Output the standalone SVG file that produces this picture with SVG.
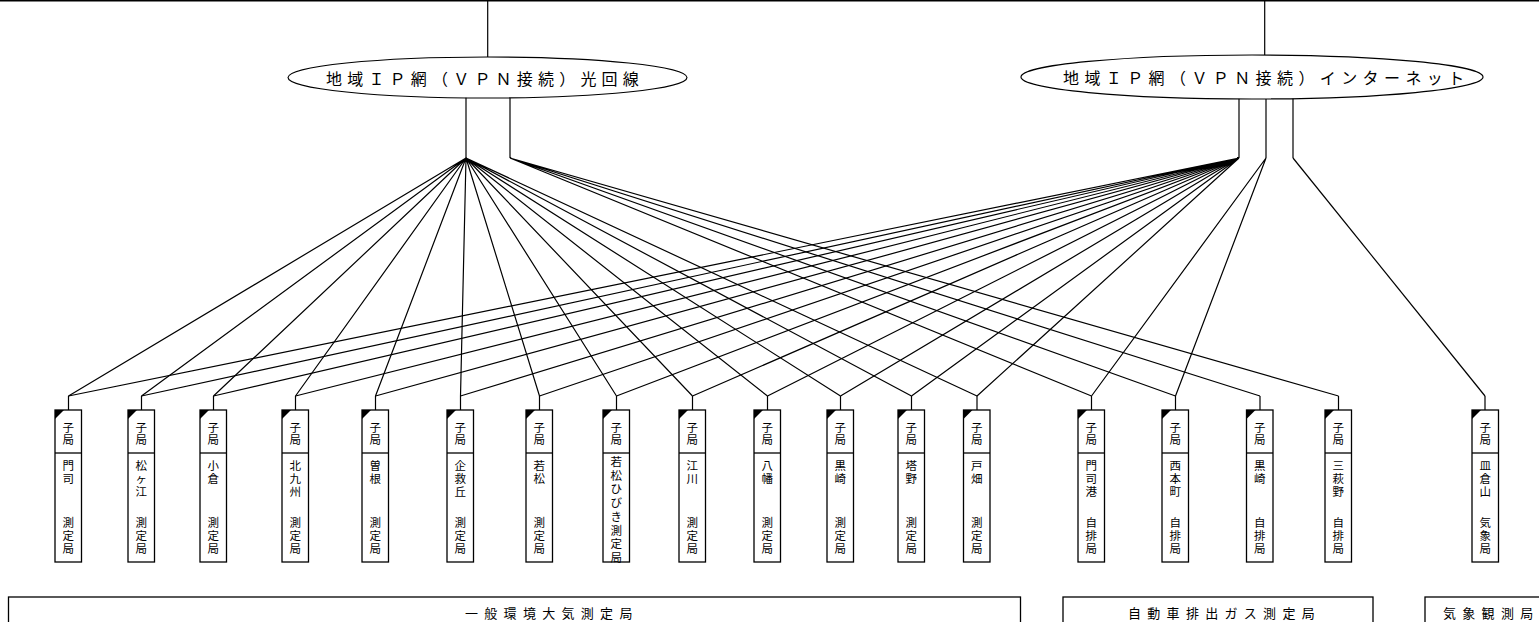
<svg xmlns="http://www.w3.org/2000/svg" width="1539" height="622" viewBox="0 0 1539 622">
<style>
.ln{stroke:#000;stroke-width:1.2;fill:none}
.box{fill:#fff;stroke:#000;stroke-width:1.3}
.tri{fill:#000}
.t{font-family:"Noto Sans CJK JP","Noto Sans",sans-serif;font-size:11.5px;fill:#000;text-anchor:middle;dominant-baseline:central}
.e{font-family:"Noto Sans CJK JP","Noto Sans",sans-serif;font-size:16px;fill:#000;dominant-baseline:central}
.lb{font-family:"Noto Sans CJK JP","Noto Sans",sans-serif;font-size:13px;fill:#000;letter-spacing:6.3px;dominant-baseline:central}
</style>
<rect width="1539" height="622" fill="#fff"/>
<g id="connectors" class="ln">
<line x1="0" y1="0.7" x2="1539" y2="0.7" stroke-width="1.5"/>
<line x1="487.7" y1="0" x2="487.7" y2="57"/>
<line x1="1264.7" y1="0" x2="1264.7" y2="55"/>
<line x1="466" y1="97" x2="466" y2="158"/>
<line x1="510" y1="97" x2="510" y2="158"/>
<line x1="1239" y1="98" x2="1239" y2="158"/>
<line x1="1266" y1="99" x2="1266" y2="158"/>
<line x1="1293" y1="98" x2="1293" y2="158"/>
<path d="M466 158L68.5 396M466 158L141.5 396M466 158L213.5 396M466 158L295.5 396M466 158L375.5 396M466 158L460.5 396M466 158L539.5 396M466 158L616.5 396M466 158L692.5 396M466 158L767.5 396M466 158L840.5 396M466 158L911.5 396M466 158L977 396"/>
<path d="M1239 158L68.5 396M1239 158L141.5 396M1239 158L213.5 396M1239 158L295.5 396M1239 158L375.5 396M1239 158L460.5 396M1239 158L539.5 396M1239 158L616.5 396M1239 158L692.5 396M1239 158L767.5 396M1239 158L840.5 396M1239 158L911.5 396M1239 158L977 396"/>
<path d="M510 158L1091.5 396M510 158L1175.5 396M510 158L1260 396M510 158L1338.5 396"/>
<path d="M1266 158L1091.5 396M1266 158L1175.5 396"/>
<path d="M1293 158L1485 396"/>
<path d="M68.5 396V410M141.5 396V410M213.5 396V410M295.5 396V410M375.5 396V410M460.5 396V410M539.5 396V410M616.5 396V410M692.5 396V410M767.5 396V410M840.5 396V410M911.5 396V410M977 396V410M1091.5 396V410M1175.5 396V410M1260 396V410M1338.5 396V410M1485 396V410"/>
</g>
<g id="net-fiber">
<ellipse cx="487.5" cy="77.5" rx="199.5" ry="20.5" fill="#fff" stroke="#000" stroke-width="1.2"/>
<text class="e" x="326" y="77.5" letter-spacing="5.2">地域ＩＰ網（ＶＰＮ接続）光回線</text>
</g>
<g id="net-internet">
<ellipse cx="1252" cy="77" rx="231" ry="22" fill="#fff" stroke="#000" stroke-width="1.2"/>
<text class="e" x="1063" y="77" letter-spacing="5.4">地域ＩＰ網（ＶＰＮ接続）インターネット</text>
</g>
<defs>
<g id="stn">
<rect class="box" x="0" y="0" width="26.5" height="152"/>
<line x1="0" y1="43" x2="26.5" y2="43" stroke="#000" stroke-width="1.3"/>
<path class="tri" d="M0 0H9L0 9Z"/>
<text class="t" x="13.25"><tspan x="13.25" y="16.5">子</tspan><tspan x="13.25" y="28.5">局</tspan></text>
</g>
</defs>
<g id="s-moji" transform="translate(55,410)"><use href="#stn"/><text class="t"><tspan x="13.25" y="55">門</tspan><tspan x="13.25" y="68">司</tspan><tspan x="13.25" y="112">測</tspan><tspan x="13.25" y="125">定</tspan><tspan x="13.25" y="138">局</tspan></text></g>
<g id="s-matsugae" transform="translate(128,410)"><use href="#stn"/><text class="t"><tspan x="13.25" y="55">松</tspan><tspan x="13.25" y="68">ヶ</tspan><tspan x="13.25" y="81">江</tspan><tspan x="13.25" y="112">測</tspan><tspan x="13.25" y="125">定</tspan><tspan x="13.25" y="138">局</tspan></text></g>
<g id="s-kokura" transform="translate(200,410)"><use href="#stn"/><text class="t"><tspan x="13.25" y="55">小</tspan><tspan x="13.25" y="68">倉</tspan><tspan x="13.25" y="112">測</tspan><tspan x="13.25" y="125">定</tspan><tspan x="13.25" y="138">局</tspan></text></g>
<g id="s-kitakyushu" transform="translate(282,410)"><use href="#stn"/><text class="t"><tspan x="13.25" y="55">北</tspan><tspan x="13.25" y="68">九</tspan><tspan x="13.25" y="81">州</tspan><tspan x="13.25" y="112">測</tspan><tspan x="13.25" y="125">定</tspan><tspan x="13.25" y="138">局</tspan></text></g>
<g id="s-sone" transform="translate(362,410)"><use href="#stn"/><text class="t"><tspan x="13.25" y="55">曽</tspan><tspan x="13.25" y="68">根</tspan><tspan x="13.25" y="112">測</tspan><tspan x="13.25" y="125">定</tspan><tspan x="13.25" y="138">局</tspan></text></g>
<g id="s-kikugaoka" transform="translate(447,410)"><use href="#stn"/><text class="t"><tspan x="13.25" y="55">企</tspan><tspan x="13.25" y="68">救</tspan><tspan x="13.25" y="81">丘</tspan><tspan x="13.25" y="112">測</tspan><tspan x="13.25" y="125">定</tspan><tspan x="13.25" y="138">局</tspan></text></g>
<g id="s-wakamatsu" transform="translate(526,410)"><use href="#stn"/><text class="t"><tspan x="13.25" y="55">若</tspan><tspan x="13.25" y="68">松</tspan><tspan x="13.25" y="112">測</tspan><tspan x="13.25" y="125">定</tspan><tspan x="13.25" y="138">局</tspan></text></g>
<g id="s-hibiki" transform="translate(603,410)"><use href="#stn"/><text class="t"><tspan x="13.25" y="51">若</tspan><tspan x="13.25" y="64.7">松</tspan><tspan x="13.25" y="78.4">ひ</tspan><tspan x="13.25" y="92.1">び</tspan><tspan x="13.25" y="105.8">き</tspan><tspan x="13.25" y="119.5">測</tspan><tspan x="13.25" y="133.2">定</tspan><tspan x="13.25" y="146.9">局</tspan></text></g>
<g id="s-egawa" transform="translate(679,410)"><use href="#stn"/><text class="t"><tspan x="13.25" y="55">江</tspan><tspan x="13.25" y="68">川</tspan><tspan x="13.25" y="112">測</tspan><tspan x="13.25" y="125">定</tspan><tspan x="13.25" y="138">局</tspan></text></g>
<g id="s-yahata" transform="translate(754,410)"><use href="#stn"/><text class="t"><tspan x="13.25" y="55">八</tspan><tspan x="13.25" y="68">幡</tspan><tspan x="13.25" y="112">測</tspan><tspan x="13.25" y="125">定</tspan><tspan x="13.25" y="138">局</tspan></text></g>
<g id="s-kurosaki" transform="translate(827,410)"><use href="#stn"/><text class="t"><tspan x="13.25" y="55">黒</tspan><tspan x="13.25" y="68">崎</tspan><tspan x="13.25" y="112">測</tspan><tspan x="13.25" y="125">定</tspan><tspan x="13.25" y="138">局</tspan></text></g>
<g id="s-tono" transform="translate(898,410)"><use href="#stn"/><text class="t"><tspan x="13.25" y="55">塔</tspan><tspan x="13.25" y="68">野</tspan><tspan x="13.25" y="112">測</tspan><tspan x="13.25" y="125">定</tspan><tspan x="13.25" y="138">局</tspan></text></g>
<g id="s-tobata" transform="translate(963.5,410)"><use href="#stn"/><text class="t"><tspan x="13.25" y="55">戸</tspan><tspan x="13.25" y="68">畑</tspan><tspan x="13.25" y="112">測</tspan><tspan x="13.25" y="125">定</tspan><tspan x="13.25" y="138">局</tspan></text></g>
<g id="a-mojiko" transform="translate(1078,410)"><use href="#stn"/><text class="t"><tspan x="13.25" y="55">門</tspan><tspan x="13.25" y="68">司</tspan><tspan x="13.25" y="81">港</tspan><tspan x="13.25" y="112">自</tspan><tspan x="13.25" y="125">排</tspan><tspan x="13.25" y="138">局</tspan></text></g>
<g id="a-nishihonmachi" transform="translate(1162,410)"><use href="#stn"/><text class="t"><tspan x="13.25" y="55">西</tspan><tspan x="13.25" y="68">本</tspan><tspan x="13.25" y="81">町</tspan><tspan x="13.25" y="112">自</tspan><tspan x="13.25" y="125">排</tspan><tspan x="13.25" y="138">局</tspan></text></g>
<g id="a-kurosaki" transform="translate(1246.5,410)"><use href="#stn"/><text class="t"><tspan x="13.25" y="55">黒</tspan><tspan x="13.25" y="68">崎</tspan><tspan x="13.25" y="112">自</tspan><tspan x="13.25" y="125">排</tspan><tspan x="13.25" y="138">局</tspan></text></g>
<g id="a-mihagino" transform="translate(1325,410)"><use href="#stn"/><text class="t"><tspan x="13.25" y="55">三</tspan><tspan x="13.25" y="68">萩</tspan><tspan x="13.25" y="81">野</tspan><tspan x="13.25" y="112">自</tspan><tspan x="13.25" y="125">排</tspan><tspan x="13.25" y="138">局</tspan></text></g>
<g id="w-sarakura" transform="translate(1472,410)"><use href="#stn"/><text class="t"><tspan x="13.25" y="55">皿</tspan><tspan x="13.25" y="68">倉</tspan><tspan x="13.25" y="81">山</tspan><tspan x="13.25" y="112">気</tspan><tspan x="13.25" y="125">象</tspan><tspan x="13.25" y="138">局</tspan></text></g>
<g id="cat-general">
<rect x="8.5" y="597" width="1012" height="40" fill="#fff" stroke="#000" stroke-width="1.3"/>
<text class="lb" x="465" y="612">一般環境大気測定局</text>
</g>
<g id="cat-auto">
<rect x="1063" y="597" width="310" height="40" fill="#fff" stroke="#000" stroke-width="1.3"/>
<text class="lb" x="1128" y="612">自動車排出ガス測定局</text>
</g>
<g id="cat-weather">
<rect x="1425" y="597" width="130" height="40" fill="#fff" stroke="#000" stroke-width="1.3"/>
<text class="lb" x="1443" y="612">気象観測局</text>
</g>
</svg>
